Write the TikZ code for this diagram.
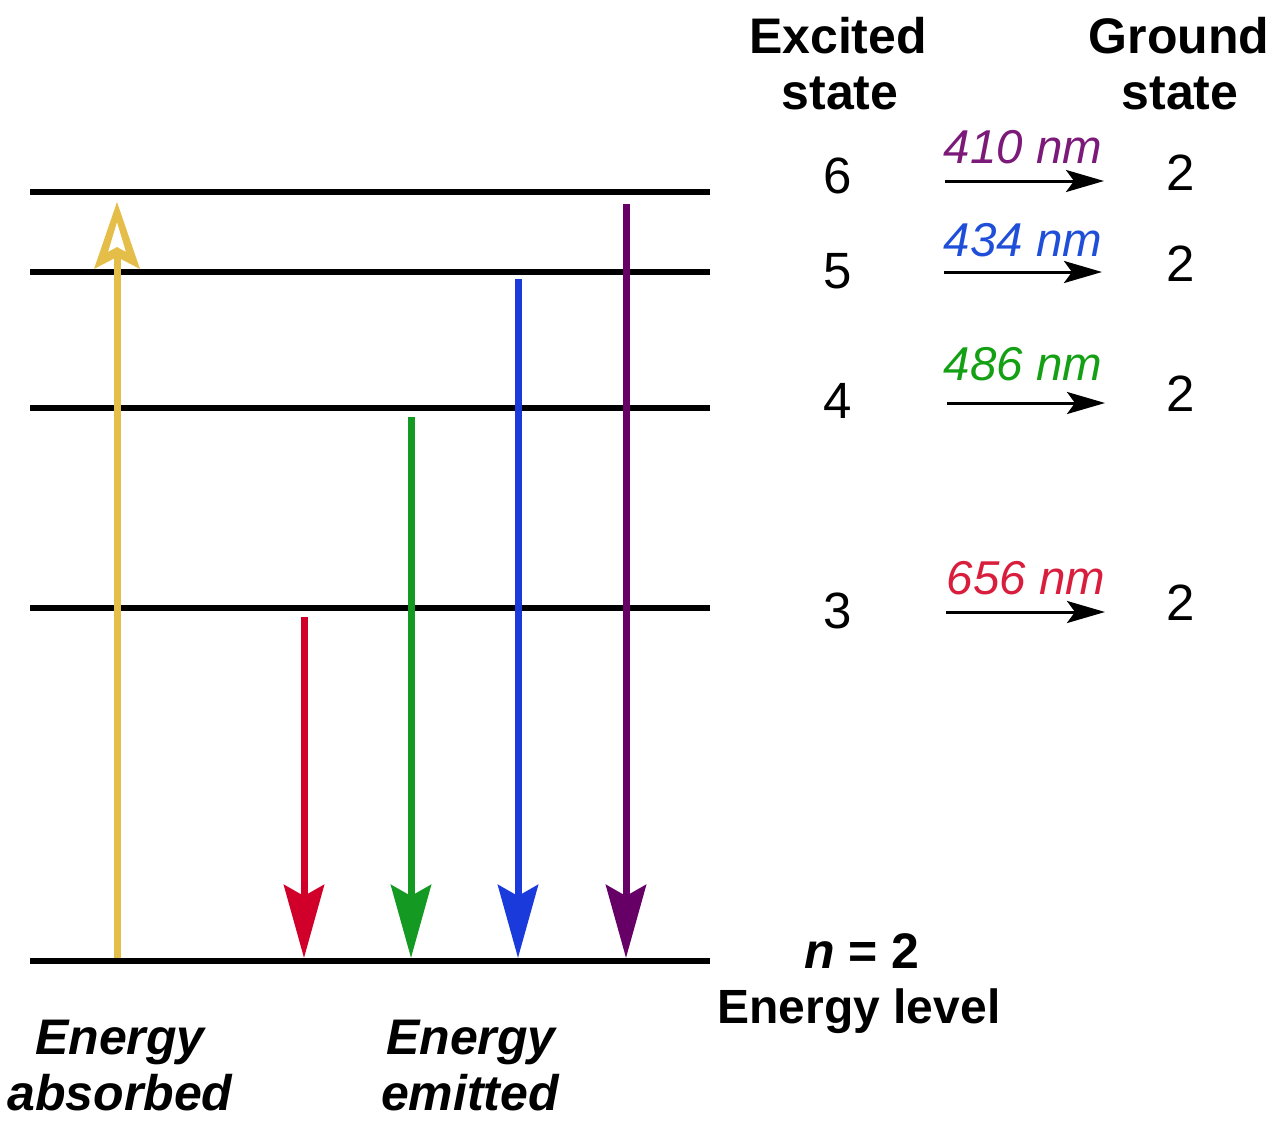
\documentclass[tikz,border=0pt]{standalone}
\usepackage{fontspec}
\setmainfont{Liberation Sans}
\usetikzlibrary{arrows.meta}
\definecolor{cyel}{HTML}{E5BE4A}
\definecolor{cred}{HTML}{D0002A}
\definecolor{cgrn}{HTML}{149A22}
\definecolor{cblu}{HTML}{1A3ADB}
\definecolor{cpur}{HTML}{660066}
\definecolor{lpur}{HTML}{7B1A78}
\definecolor{lblu}{HTML}{1F4FD8}
\definecolor{lgrn}{HTML}{14A014}
\definecolor{lred}{HTML}{D81E3C}
\tikzset{
  level/.style={line width=6pt, black},
  emit/.style={line width=7pt, -{Stealth[length=73pt, width=40pt, inset=11pt]}},
  trans/.style={line width=3pt, -{Stealth[length=38pt, width=22pt, inset=8pt]}},
  big/.style={font=\fontsize{50}{58}\selectfont, inner sep=0pt, anchor=base},
  num/.style={font=\fontsize{51}{58}\selectfont, inner sep=0pt, anchor=base},
  lab/.style={font=\fontsize{47.5}{56}\selectfont\itshape, inner sep=0pt, anchor=base},
}
\begin{document}
\begin{tikzpicture}[x=1pt, y=-1pt]
\useasboundingbox (0,0) rectangle (1280,1130);
% energy levels
\foreach \n/\y in {6/192, 5/272, 4/408, 3/608, 2/961} {
  \coordinate (L\n a) at (30,\y);
  \coordinate (L\n b) at (710,\y);
  \draw[level] (L\n a) -- (L\n b);
}
% absorbed (yellow)
\coordinate (ya) at (117,958);
\coordinate (yb) at (117,254);
\draw[cyel, line width=7pt] (ya) -- (yb);
\fill[cyel, even odd rule] (117,202) -- (140,269) -- (117,257) -- (94,269) -- cycle
  (117,222) -- (126,252) -- (117,247) -- (108,252) -- cycle;
% emitted
\coordinate (ra) at (304,617);  \coordinate (rb) at (304,958);
\coordinate (ga) at (411,417);  \coordinate (gb) at (411,958);
\coordinate (ba) at (518,279);  \coordinate (bb) at (518,958);
\coordinate (pa) at (626,204);  \coordinate (pb) at (626,958);
\draw[emit, cred] (ra) -- (rb);
\draw[emit, cgrn] (ga) -- (gb);
\draw[emit, cblu] (ba) -- (bb);
\draw[emit, cpur] (pa) -- (pb);
% headers
\node[big, font=\fontsize{50}{58}\selectfont\bfseries] (h1) at (838,53) {Excited};
\node[big, font=\fontsize{50}{58}\selectfont\bfseries] (h2) at (840,109) {state};
\node[big, font=\fontsize{50}{58}\selectfont\bfseries] (h3) at (1179,53) {Ground};
\node[big, font=\fontsize{50}{58}\selectfont\bfseries] (h4) at (1180,109) {state};
% excited numbers
\node[num] (e6) at (838,193) {6};
\node[num] (e5) at (838,288) {5};
\node[num] (e4) at (838,418) {4};
\node[num] (e3) at (838,628) {3};
% ground numbers
\node[num] (g6) at (1181,190) {2};
\node[num] (g5) at (1181,281) {2};
\node[num] (g4) at (1181,411) {2};
\node[num] (g3) at (1181,620) {2};
% transition arrows
\coordinate (t6a) at (945,181); \coordinate (t6b) at (1104,181);
\coordinate (t5a) at (944,272); \coordinate (t5b) at (1102,272);
\coordinate (t4a) at (947,403); \coordinate (t4b) at (1105,403);
\coordinate (t3a) at (946,612); \coordinate (t3b) at (1105,612);
\draw[trans] (t6a) -- (t6b);
\draw[trans] (t5a) -- (t5b);
\draw[trans] (t4a) -- (t4b);
\draw[trans] (t3a) -- (t3b);
% wavelength labels
\node[lab, text=lpur] (w6) at (1023,163) {410 nm};
\node[lab, text=lblu] (w5) at (1023,256) {434 nm};
\node[lab, text=lgrn] (w4) at (1023,380) {486 nm};
\node[lab, text=lred] (w3) at (1026,594) {656 nm};
% bottom labels
\node[big, font=\fontsize{50}{58}\selectfont\bfseries] (nl) at (862,968) {\textit{n} = 2};
\node[big, font=\fontsize{48}{58}\selectfont\bfseries] (el) at (859,1023) {Energy level};
\node[big, font=\fontsize{50}{58}\selectfont\bfseries\itshape] (a1) at (120,1054) {Energy};
\node[big, font=\fontsize{50}{58}\selectfont\bfseries\itshape] (a2) at (120,1110) {absorbed};
\node[big, font=\fontsize{50}{58}\selectfont\bfseries\itshape] (m1) at (471,1054) {Energy};
\node[big, font=\fontsize{50}{58}\selectfont\bfseries\itshape] (m2) at (470,1110) {emitted};
\end{tikzpicture}
\end{document}
